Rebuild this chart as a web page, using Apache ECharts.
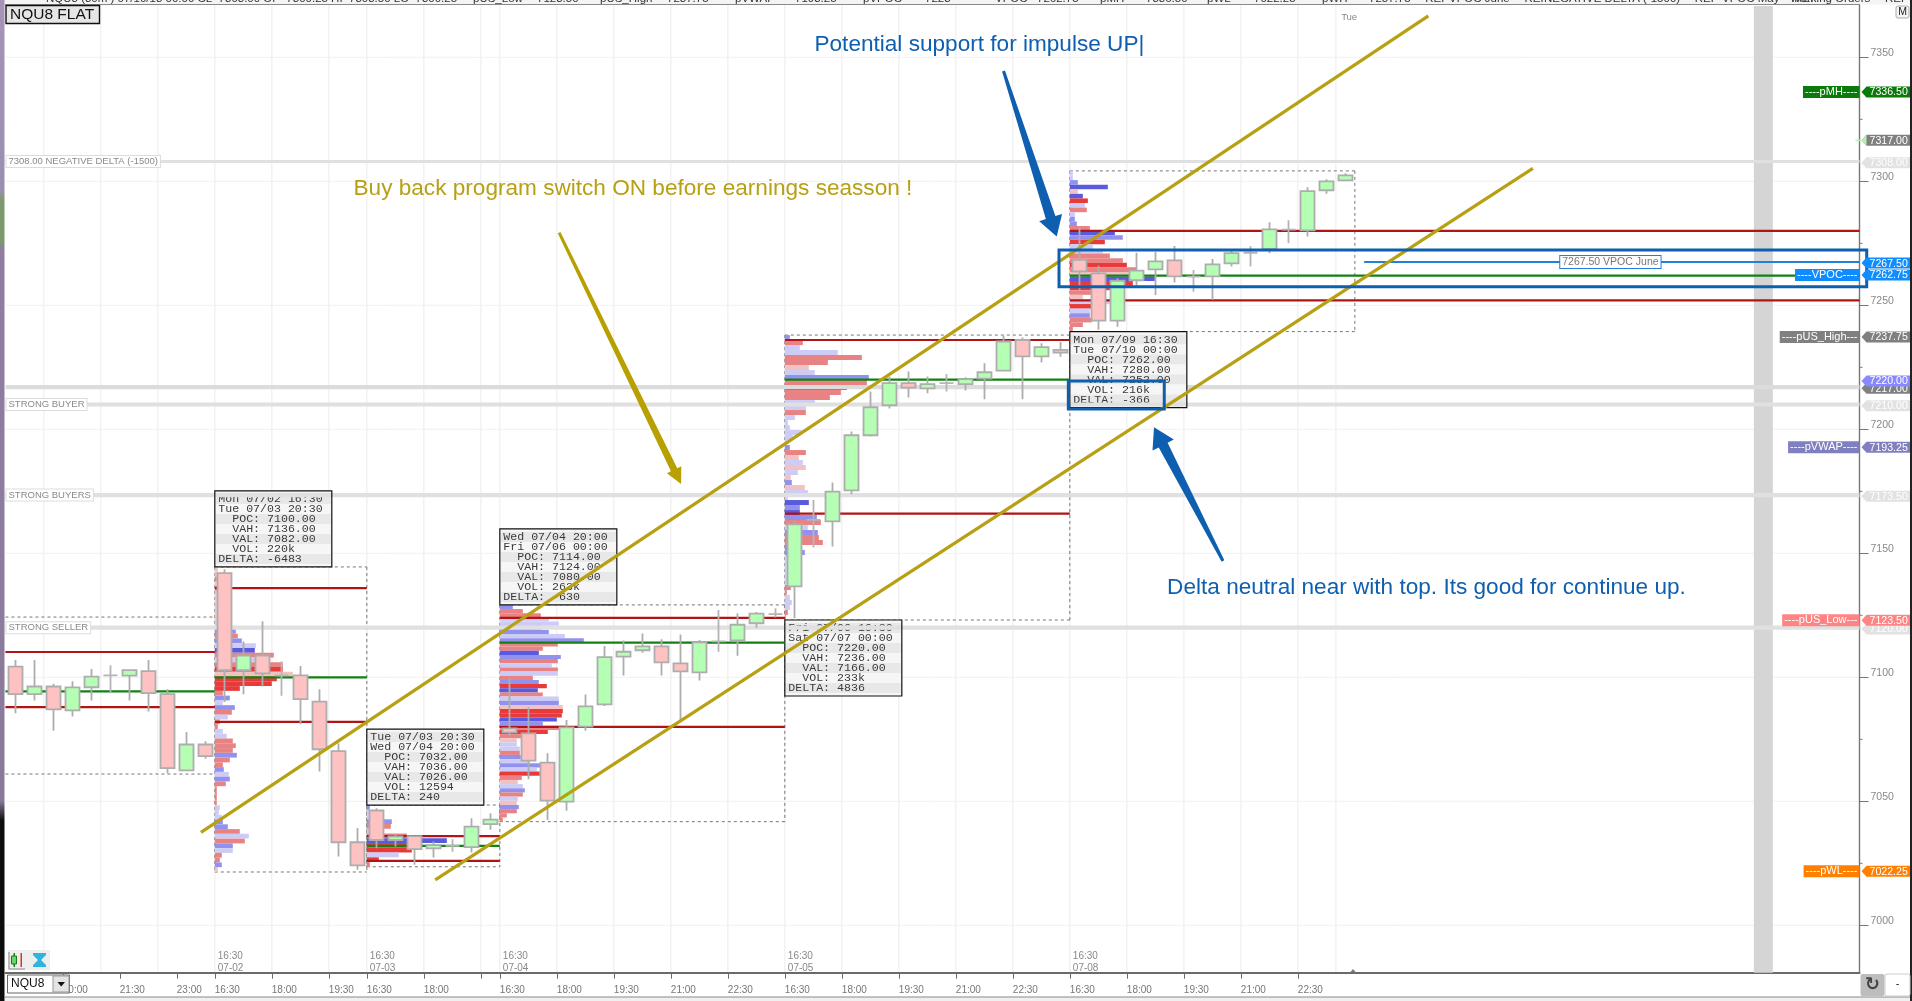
<!DOCTYPE html>
<html><head><meta charset="utf-8">
<style>html,body{margin:0;padding:0;background:#fff;overflow:hidden}#c{width:1912px;height:1001px}</style>
<script src="https://cdn.jsdelivr.net/npm/echarts@6/dist/echarts.min.js"></script>
</head><body><div id="c"></div>
<script>
// ---------- data ----------
// candles: bar index is the position in these arrays; 30-minute bars
const opens = [7104.3,7093.2,7096.3,7086.7,7096,7100.8,7100.7,7102.5,7093.2,7062.5,7072.9,
 7142,7102.9,7108.8,7100.8,7100.8,7090.2,7070.2,7033.5,
 7046.3,7034.4,7036,7031,7032,7031.5,7040.8,
 7079.4,7077.4,7065.6,7049.9,7080.1,7089.1,7108.3,7110.9,7112.5,7105.6,7102,7114.5,7114.9,7121.8,7125.5,
 7136.7,7163.5,7162.9,7175.4,7197.6,7209.7,7218.6,7216.5,7218.6,7218.2,7220.4,7223.7,7236,7229.4,7232,
 7268.3,7262.9,7243.8,7260.1,7264.5,7268.1,7261.6,7261.7,7266.9,7271.2,7272.6,7280.5,7280.2,7296.4,7300.4];
const closes = [7093.2,7096.3,7087.1,7095.9,7100.3,7100.8,7102.9,7093.6,7063.4,7072.9,7068.2,
 7102.9,7108.8,7101.6,7100.8,7091.2,7071,7033.5,7024.2,
 7034.4,7035.8,7030.7,7032.3,7032,7039.8,7042.6,
 7077.8,7066.4,7050.3,7079.8,7088.3,7108.1,7110.3,7112.5,7106,7102.4,7114.1,7114.5,7121.2,7125.7,7125.5,
 7161.7,7163.5,7174.9,7197.6,7208.9,7218.6,7216.8,7218.2,7218.6,7220.2,7223,7235.4,7229.4,7233.1,7230.9,
 7263.7,7243.8,7259.9,7264,7267.7,7261.7,7261.6,7266.5,7271,7271.2,7280.6,7280.5,7296,7300,7302.4];
const lows = [7085.5,7090.6,7078.5,7084.2,7090.6,7093.6,7090.6,7086.2,7061.3,7062.5,7067.2,
 7090,7093.2,7096.3,7092.6,7081.1,7062,7027.7,7022.4,
 7031.1,7031.8,7024.4,7027.3,7029.7,7029.4,7038.5,
 7076.1,7058.9,7042.5,7046.2,7078.5,7088.4,7100.7,7109.9,7100.7,7082.1,7098.7,7110.3,7108.7,7120,7124.1,
 7123.8,7152.3,7152.7,7173.8,7197.1,7208.4,7212.8,7214.5,7215.2,7215.6,7212.1,7223.3,7212.1,7226.9,7229.3,
 7256.2,7240.1,7241.4,7257.3,7254.2,7259.2,7255.5,7252.2,7265.6,7265.6,7271,7275,7277.7,7295,7300.4];
const highs = [7107,7107,7097.4,7098.4,7103.3,7104.9,7102.9,7107,7095.2,7077.9,7074.2,
 7143.6,7114.4,7122.6,7106.4,7104.6,7095.2,7073.4,7039.2,
 7047.2,7036.5,7036,7033.8,7034.7,7043.2,7045.2,
 7099.6,7087.9,7069.4,7082.8,7093.1,7112.6,7114.8,7117.7,7115.3,7117.3,7115,7127.1,7125.8,7126.3,7127.8,
 7162.8,7171.5,7178.6,7199.1,7215.2,7221.3,7223.3,7221.3,7222.3,7221,7226.6,7237.8,7237,7234.7,7235.2,
 7281.7,7265.9,7260.9,7271.2,7271.6,7273.9,7264.2,7268.7,7272,7273.9,7283.5,7284.3,7297.6,7300.8,7303.2];

const yTicks = [7000,7050,7100,7150,7200,7250,7300,7350];
const yMinorTicks = [7025,7075,7125,7175,7225,7275,7325];
const xGridBars = [1.5,4.5,7.5,10.5,13.5,16.5,18.5,21.5,24.5,25.5,28.5,31.5,34.5,37.5,40.5,43.5,46.5,49.5,52.5,55.5,58.5,61.5,64.5,67.5,69.5];
const xTickBars = [2.5,5.5,8.5,10.5,13.5,16.5,18.5,21.5,24.5,25.5,28.5,31.5,34.5,37.5,40.5,43.5,46.5,49.5,52.5,55.5,58.5,61.5,64.5,67.5];
const xTickLabels = ['20:00','21:30','23:00','16:30','18:00','19:30','16:30','18:00','','16:30','18:00','19:30','21:00','22:30','16:30','18:00','19:30','21:00','22:30','16:30','18:00','19:30','21:00','22:30'];
const sessionDateBars = [10.5,18.5,25.5,40.5,55.5];
const sessionDateLabels = ['16:30\n07-02','16:30\n07-03','16:30\n07-04','16:30\n07-05','16:30\n07-08'];

// sessions: pre-session first, then the five profiled sessions
const sessionStart = [-0.52,10.5,18.5,25.5,40.5,55.5];
const sessionEnd   = [10.5,18.5,25.5,40.5,55.5,70.5];
const sessionTop   = [7124.3,7144.5,7048.5,7129.2,7238,7304.2];
const sessionBot   = [7061,7021.5,7023.6,7041.8,7123.1,7239.4];
const sessionPoc   = [7094.3,7100,7032,7114,7220,7262];
const sessionVah   = [7110.2,7136,7036,7124,7236,7280];
const sessionVal   = [7088,7082,7026,7080,7166,7252];
const infoBelow    = [false,false,false,false,true,true];
const infoLines = [
 null,
 ['Mon 07/02 16:30','Tue 07/03 20:30','  POC: 7100.00','  VAH: 7136.00','  VAL: 7082.00','  VOL: 220k','DELTA: -6483'],
 ['Tue 07/03 20:30','Wed 07/04 20:00','  POC: 7032.00','  VAH: 7036.00','  VAL: 7026.00','  VOL: 12594','DELTA: 240'],
 ['Wed 07/04 20:00','Fri 07/06 00:00','  POC: 7114.00','  VAH: 7124.00','  VAL: 7080.00','  VOL: 263k','DELTA: -630'],
 ['Fri 07/06 16:30','Sat 07/07 00:00','  POC: 7220.00','  VAH: 7236.00','  VAL: 7166.00','  VOL: 233k','DELTA: 4836'],
 ['Mon 07/09 16:30','Tue 07/10 00:00','  POC: 7262.00','  VAH: 7280.00','  VAL: 7252.00','  VOL: 216k','DELTA: -366']
];

// volume profiles, top row to bottom row; tone a/b/c = buy light..strong, d/e/f = sell light..strong
const profile1Vol = [3,3,2,2,4,3,2,3,2,2, 3,2,3,21,23,27,41,40,59,50, 68,68,78,62,57,25,8,15,8,20, 17,13,5,3,8,12,18,21,18,22, 15,8,9,14,15,11,2,2,2,2, 5,4,7,8,13,25,34,30,18,18, 7,5,7,3];
const profile1Tone = 'ddededddad'+'dadbebacea'+'efdfffebab'+'eaeeaaeeeb'+'eebabeeeee'+'aaabbeaeba'+'eebd';
const profile2Vol = [3,7,14,25,24,7,40,80,55,45,32,12,3];
const profile2Tone = 'baabeaecffafe';
const profile3Vol = [13,23,41,49,59,42,49,65,84,58, 43,39,61,58,52,58,58,33,39,47, 38,43,59,59,63,63,62,57,43,66, 48,23,17,17,20,20,21,30,42,37, 40,22,18,23,25,23,18,17,19,17, 7,3];
const profile3Tone = 'beeaaebabe'+'ecbeaeaebf'+'ceabdffcbe'+'fedaaebaba'+'fedabeadbe'+'ee';
const profile4Vol = [5,18,15,53,77,43,24,30,84,82, 62,56,45,30,21,21,10,3,5,17, 8,2,5,21,14,18,21,13,6,7, 20,23,3,24,15,15,32,36,23,33, 34,38,17,20,3,2,2,2,2,2, 6,2,5,7,5,3,1];
const profile4Tone = 'beaaeedabe'+'feeaaeaaaa'+'aabedadadb'+'daacbcbeab'+'eebbaaaaaa'+'eeaaaee';
const profile5Vol = [3,3,8,38,8,13,18,15,17,5, 5,7,20,45,53,35,23,33,40,53, 57,67,73,85,63,40,22,13,42,30, 20,20,22,13,3];
const profile5Tone = 'aabcdcfaea'+'bbecbfaaee'+'fedcffedaf'+'abeee';

const grayPrices = [7308,7210,7173.5,7120];
const grayLabels = ['7308.00 NEGATIVE DELTA (-1500)','STRONG BUYER','STRONG BUYERS','STRONG SELLER'];
const grayUnderPrices = [7217];

const trendFrom = [[9.77,7037.5],[22.1,7018.3]];
const trendTo   = [[74.37,7366.7],[79.87,7305.2]];
const arrowFrom = [[28.62,7279.3],[52.01,7344.5],[63.56,7146.9]];
const arrowTo   = [[35.04,7177.9],[54.81,7277.7],[59.93,7200.8]];
const highlightBars = [[54.93,97.44],[55.42,60.47]];
const highlightPrices = [[7272.3,7257.5],[7219.5,7208.2]];

const noteTexts = ['Potential support for impulse UP|','Buy back program switch ON before earnings seasson !','Delta neutral near with top. Its good for continue up.'];
const noteAt = [[42.06,7355],[17.8,7297],[60.62,7136.3]];

const tagPrices = [7336.5,7317,7308,7267.5,7262.75,7237.75,7217,7220,7210,7193.25,7173.5,7120,7123.5,7022.25];
const tagNames  = ['----pMH----','','','','----VPOC----','----pUS_High---','','','','----pVWAP----','','','----pUS_Low---','----pWL----'];
const tagColors = ['#0a7a0a','#808080','#e2e2e2','#0f8cff','#0f8cff','#808080','#808080','#8888ff','#e2e2e2','#8080c0','#e2e2e2','#e2e2e2','#ff8484','#ff8000'];

const headerPieces = [[46,'NQU8 (30m ) 07/10/18 00:00 CL  7303.00 OP  7300.25 HI  7303.50 LO  7300.25 —'],[473,'pUS_Low'],[537,'7123.50 —'],[600,'pUS_High'],[667,'7237.75 —'],[735,'pVWAP'],[795,'7193.25 —'],[863,'pVPOC'],[925,'7223 —'],[995,'VPOC'],[1037,'7262.75 —'],[1100,'pMH'],[1146,'7336.50 —'],[1207,'pWL'],[1254,'7022.25 —'],[1322,'pWH'],[1369,'7257.75 —REF'],[1449,'VPOC June —REF'],[1544,'NEGATIVE DELTA (-1500) —REF'],[1722,'VPOC May —REF'],[1790,'Working Orders —REF']];

// ---------- chart ----------
const xMin=-0.516, xMax=97.06, yMin=6980.89, yMax=7371.09;
const FONT='"Liberation Sans",Arial,sans-serif';
const toneColor={a:'#ccccf6',b:'#9292ee',c:'#5a5ade',d:'#f2c2c2',e:'#e98282',f:'#e83a3a'};
const chart=echarts.init(document.getElementById('c'),null,{renderer:'canvas'});

function sketch(name,z,data,render){
  return {type:'custom',name,z,silent:true,clip:false,animation:false,data,encode:{x:0,y:1},
    renderItem:(p,api)=>({type:'group',children:render(p.dataIndex,api)})};
}
const line=(a,b,stroke,w,dash)=>({type:'line',shape:{x1:a[0],y1:a[1],x2:b[0],y2:b[1]},style:{stroke,lineWidth:w,lineDash:dash||null}});
const rect=(x,y,w,h,fill,stroke,lw)=>({type:'rect',shape:{x,y,width:w,height:h},style:{fill:fill||'none',stroke:stroke||null,lineWidth:lw||0}});
const idx=a=>a.map((_,i)=>[0,i]);
const infoTop=(s,api)=>{const a=infoBelow[s]?api.coord([sessionStart[s],sessionBot[s]]):api.coord([sessionStart[s],sessionTop[s]]);return [a[0],infoBelow[s]?a[1]:a[1]-76];};

const series=[];
// grid lines
series.push(sketch('hgrid',0,yTicks.map(v=>[0,v]),(i,api)=>[line(api.coord([xMin,yTicks[i]]),api.coord([xMax,yTicks[i]]),'#f1f1f1',1)]));
series.push(sketch('vgrid',0,xGridBars.map(v=>[v,7000]),(i,api)=>[line(api.coord([xGridBars[i],yMin]),api.coord([xGridBars[i],yMax]),'#efefef',1.2)]));
series.push(sketch('minorTicks',0,yMinorTicks.map(v=>[xMax,v]),(i,api)=>{const a=api.coord([xMax,yMinorTicks[i]]);return [line(a,[a[0]+3,a[1]],'#777',1)];}));
// time band
series.push(sketch('band',1,[[92,7000]],(i,api)=>{const a=api.coord([91.5,yMax]),b=api.coord([92.5,yMin]);return [rect(a[0],a[1]+1,b[0]-a[0],b[1]-a[1]-1,'#d5d5d5')]}));
// session dashed boxes
series.push(sketch('sessions',2,idx(sessionStart),(i,api)=>{
  const a=api.coord([sessionStart[i],sessionTop[i]]),b=api.coord([sessionEnd[i],sessionBot[i]]);
  const d=[3,3],c='#777';
  const out=[line(a,[b[0],a[1]],c,1,d),line([a[0],b[1]],b,c,1,d)];
  if(i>0){out.push(line(a,[a[0],b[1]],c,1,d),line([b[0],a[1]],b,c,1,d));}
  return out;
}));
// profiles
[[profile1Vol,profile1Tone,1],[profile2Vol,profile2Tone,2],[profile3Vol,profile3Tone,3],[profile4Vol,profile4Tone,4],[profile5Vol,profile5Tone,5]].forEach(([vol,tone,s])=>{
  const step=(sessionTop[s]-sessionBot[s])/vol.length;
  series.push(sketch('profile'+s,3,vol.map((v,k)=>[sessionStart[s],sessionTop[s]-k*step]),(k,api)=>{
    const a=api.coord([sessionStart[s],sessionTop[s]-k*step]);
    const b=api.coord([sessionStart[s]+vol[k]/19,sessionTop[s]-(k+1)*step]);
    return [rect(a[0],a[1],b[0]-a[0],b[1]-a[1],toneColor[tone[k]||'a'])];
  }));
});
// level line that runs beneath the info boxes
series.push(sketch('levelsUnder',3,grayUnderPrices.map(v=>[xMin,v]),(i,api)=>[line(api.coord([xMin,grayUnderPrices[i]]),api.coord([xMax,grayUnderPrices[i]]),'#dcdcdc',4.2)]));
// info boxes
const infoIdx=[1,2,3,4,5];
series.push(sketch('infoFill',4,infoIdx.map(s=>[sessionStart[s],sessionTop[s]]),(i,api)=>{
  const s=infoIdx[i],[x,y]=infoTop(s,api);
  const out=[rect(x,y,117,76,'#f6f6f6')];
  infoLines[s].forEach((t,k)=>{
    out.push(rect(x+1,y+3+k*10,115,10,k%2?'#f6f6f6':'#e8e8e8'));
    out.push({type:'text',style:{text:t,x:x+3.5,y:y+8.2+k*10,fill:'#3a3a3a',font:'11.6px "Liberation Mono",monospace',align:'left',verticalAlign:'middle'}});
  });
  return out;
}));
// thick gray level lines
series.push(sketch('levels',5,grayPrices.map(v=>[xMin,v]),(i,api)=>{
  const a=api.coord([xMin,grayPrices[i]]),b=api.coord([xMax,grayPrices[i]]);
  const out=[line(a,b,'#e0e0e0',i==0?3:4.2)];
  if(grayLabels[i]) out.push({type:'text',style:{text:grayLabels[i],x:a[0]+1,y:a[1],fill:'#8a8a8a',font:'9.5px '+FONT,align:'left',verticalAlign:'middle',backgroundColor:'#fff',borderColor:'#dcdcdc',borderWidth:1,padding:[1,2,0,2]}});
  return out;
}));
series.push(sketch('infoBorder',6,infoIdx.map(s=>[sessionStart[s],sessionTop[s]]),(i,api)=>{
  const s=infoIdx[i],[x,y]=infoTop(s,api);
  return [rect(x,y,117,76,null,'#111',1.2)];
}));
// value-area lines
series.push(sketch('valueArea',7,idx(sessionStart),(i,api)=>{
  const end=i==5?xMax:sessionEnd[i];
  const mk=(v,c)=>line(api.coord([sessionStart[i],v]),api.coord([end,v]),c,2.2);
  return [mk(sessionVah[i],'#b01414'),mk(sessionVal[i],'#b01414'),mk(sessionPoc[i],'#128012')];
}));
series.push(sketch('vpocJune',7,[[63.9,7267.5]],(i,api)=>{
  const a=api.coord([70.99,7267.5]),b=api.coord([xMax,7267.5]),m=api.coord([83.95,7267.5]);
  return [line(a,b,'#1f82d8',2),{type:'text',style:{text:'7267.50 VPOC June',x:m[0],y:m[1],fill:'#777',font:'10.5px '+FONT,align:'center',verticalAlign:'middle',backgroundColor:'#fff',borderColor:'#1f82d8',borderWidth:1,padding:[1,2,0,2]}}];
}));
// candles
series.push({type:'candlestick',name:'NQU8',z:8,silent:true,animation:false,barWidth:14,encode:{x:0,y:[1,2,3,4]},
  data:opens.map((o,i)=>[i,o,closes[i],lows[i],highs[i]]),
  itemStyle:{color:'#b4ffb4',color0:'#ffc2c2',borderColor:'#adadad',borderColor0:'#adadad',borderColorDoji:'#b5b5b5',borderWidth:1.8}});
// trend lines and arrows
series.push(sketch('trend',9,idx(trendFrom),(i,api)=>[line(api.coord(trendFrom[i]),api.coord(trendTo[i]),'#b8a014',3.2)]));
series.push(sketch('highlights',10,idx(highlightBars),(i,api)=>{
  const a=api.coord([highlightBars[i][0],highlightPrices[i][0]]),b=api.coord([highlightBars[i][1],highlightPrices[i][1]]);
  return [rect(a[0],a[1],b[0]-a[0],b[1]-a[1],null,'#0e5fb0',3)];
}));
const arrowStyle=[{c:'#b8a000',t:3,w:7,l:16,h:8},{c:'#0e5fb0',t:3,w:10,l:20,h:12},{c:'#0e5fb0',t:3,w:10,l:20,h:12}];
series.push(sketch('arrows',11,idx(arrowFrom),(i,api)=>{
  const a=api.coord(arrowFrom[i]),b=api.coord(arrowTo[i]),st=arrowStyle[i];
  const L=Math.hypot(b[0]-a[0],b[1]-a[1]),ux=(b[0]-a[0])/L,uy=(b[1]-a[1])/L,nx=-uy,ny=ux;
  const nk=[b[0]-ux*st.l,b[1]-uy*st.l];
  const P=(p,s)=>[p[0]+nx*s,p[1]+ny*s];
  return [{type:'polygon',shape:{points:[P(a,st.t/2),P(nk,st.w/2),P(nk,st.h),b,P(nk,-st.h),P(nk,-st.w/2),P(a,-st.t/2)]},style:{fill:st.c}}];
}));
// notes
const noteColor=['#0e5fb0','#b8a014','#0e5fb0'];
series.push(sketch('notes',12,noteAt,(i,api)=>{
  const a=api.coord(noteAt[i]);
  return [{type:'text',style:{text:noteTexts[i],x:a[0],y:a[1],fill:noteColor[i],font:'22.6px '+FONT,align:'left',verticalAlign:'middle'}}];
}));
series.push(sketch('dayMark',12,[[70.2,7366]],(i,api)=>{
  const a=api.coord([70.2,7366]);
  return [{type:'text',style:{text:'Tue',x:a[0],y:a[1],fill:'#8a8a8a',font:'9.5px '+FONT,align:'center',verticalAlign:'middle'}}];
}));
// price tags
series.push(sketch('tags',13,tagPrices.map(v=>[xMax,v]),(i,api)=>{
  const a=api.coord([xMax,tagPrices[i]]),x=a[0],y=a[1]+1.2,c=tagColors[i];
  const isLast=tagPrices[i]===7317;
  const out=[];
  if(isLast) out.push(line([x-4,y],[x+2,y],'#b4f0b4',1.5));
  out.push({type:'polygon',shape:{points:[[x+2,y],[x+7,y-5.5],[x+51,y-5.5],[x+51,y+5.5],[x+7,y+5.5]]},style:{fill:c}});
  if(isLast) out.push({type:'polygon',shape:{points:[[x+2,y],[x+7,y-5.5],[x+7,y+5.5]]},style:{fill:'#b4f0b4'}});
  out.push({type:'text',style:{text:tagPrices[i].toFixed(2),x:x+10,y:y+0.5,fill:'#fff',font:'10.6px '+FONT,align:'left',verticalAlign:'middle'}});
  if(tagNames[i]) out.push({type:'text',style:{text:tagNames[i],x:x,y:y,fill:'#fff',font:'11px '+FONT,align:'right',verticalAlign:'middle',backgroundColor:c,padding:[1,2,0,2]}});
  return out;
}));

// window chrome
const graphic=[
 {type:'rect',shape:{x:0,y:0,width:1912,height:4.5},style:{fill:'#f4f4f4'},z:50},
 {type:'rect',shape:{x:5,y:4,width:1855,height:1},style:{fill:'#8a8a8a'},z:50},
 {type:'rect',shape:{x:0,y:0,width:4.5,height:1001},style:{fill:new echarts.graphic.LinearGradient(0,0,0,1,[{offset:0,color:'#a594b8'},{offset:.19,color:'#9a8fb0'},{offset:.2,color:'#7d9a6e'},{offset:.24,color:'#7d9a6e'},{offset:.25,color:'#8f7ea0'},{offset:.8,color:'#8a7a9a'},{offset:.82,color:'#0c0c0c'},{offset:1,color:'#0c0c0c'}])},z:50},
 {type:'rect',shape:{x:1910,y:0,width:2,height:1001},style:{fill:'#222'},z:50},
 {type:'rect',shape:{x:5,y:997,width:1905,height:4},style:{fill:'#f0f0f0'},z:50},
 {type:'rect',shape:{x:5,y:996.5,width:1905,height:1},style:{fill:'#8a8a8a'},z:50},
 {type:'rect',shape:{x:6,y:5.5,width:93.5,height:18},style:{fill:'#e6e6e6',stroke:'#111',lineWidth:1.4},z:50},
 {type:'text',style:{text:'NQU8 FLAT',x:10,y:15,fill:'#111',font:'15.5px '+FONT,verticalAlign:'middle'},z:51},
 {type:'rect',shape:{x:1896,y:6,width:13,height:12,r:2},style:{fill:'#f4f4f4',stroke:'#aaa',lineWidth:1},z:50},
 {type:'text',style:{text:'M',x:1902.5,y:12.5,fill:'#222',font:'10.5px '+FONT,align:'center',verticalAlign:'middle'},z:51},
 {type:'rect',shape:{x:7.5,y:975,width:62,height:18},style:{fill:'#fff',stroke:'#666',lineWidth:1},z:50},
 {type:'text',style:{text:'NQU8',x:11,y:984,fill:'#111',font:'12px '+FONT,verticalAlign:'middle'},z:51},
 {type:'rect',shape:{x:53,y:976,width:16,height:16},style:{fill:'#e4e4e4',stroke:'#999',lineWidth:1},z:51},
 {type:'polygon',shape:{points:[[57.5,982],[65,982],[61.2,986.5]]},style:{fill:'#111'},z:52},
 {type:'rect',shape:{x:8,y:950,width:42,height:20},style:{fill:'#eeeeee'},z:50},
 {type:'rect',shape:{x:13.5,y:953,width:1.5,height:14},style:{fill:'#1a7a1a'},z:51},
 {type:'rect',shape:{x:11.5,y:956,width:5,height:8},style:{fill:'#6fd06f',stroke:'#1a7a1a',lineWidth:1},z:51},
 {type:'rect',shape:{x:20.5,y:953,width:1.5,height:14},style:{fill:'#e03030'},z:51},
 {type:'polyline',shape:{points:[[9,952],[9,969],[25,969]]},style:{stroke:'#888',lineWidth:1,fill:'none'},z:51},
 {type:'polygon',shape:{points:[[33,953],[46,953],[46,955],[41,960],[46,965],[46,967],[33,967],[33,965],[38,960],[33,955]]},style:{fill:'#2fb4e0'},z:51},
 {type:'rect',shape:{x:1860.5,y:974,width:24,height:22,r:2},style:{fill:'#bdbdbd'},z:50},
 {type:'text',style:{text:'↻',x:1872.5,y:985,fill:'#444',font:'bold 18px "DejaVu Sans"',align:'center',verticalAlign:'middle'},z:51},
 {type:'rect',shape:{x:1885,y:974,width:25,height:22,r:2},style:{fill:'#fff',stroke:'#ccc',lineWidth:1},z:50},
 {type:'text',style:{text:'-',x:1897.5,y:984,fill:'#222',font:'11px '+FONT,align:'center',verticalAlign:'middle'},z:51},
 {type:'polygon',shape:{points:[[1350,972.5],[1356,972.5],[1353,969]]},style:{fill:'#777'},z:50}
];
headerPieces.forEach(h=>graphic.push({type:'text',style:{text:h[1],x:h[0],y:4.8,fill:'#333',font:'11.5px '+FONT,verticalAlign:'bottom'},z:51}));

const axisColor='#777';
chart.setOption({
  animation:false,backgroundColor:'#fff',
  textStyle:{fontFamily:FONT},
  tooltip:{show:false},
  grid:{left:5.5,top:5,right:52.5,bottom:28.3,containLabel:false},
  xAxis:[
   {type:'value',min:xMin,max:xMax,position:'bottom',splitLine:{show:false},
    axisLine:{onZero:false,lineStyle:{color:'#6a6a6a',width:2}},
    axisTick:{customValues:xTickBars,length:6,lineStyle:{color:'#6a6a6a'}},
    axisLabel:{customValues:xTickBars,align:'left',margin:13,fontSize:10,color:'#777',hideOverlap:false,
      formatter:v=>xTickLabels[xTickBars.indexOf(v)]||''}},
   {type:'value',min:xMin,max:xMax,position:'bottom',splitLine:{show:false},axisLine:{show:false},axisTick:{show:false},
    axisLabel:{inside:true,customValues:sessionDateBars,align:'left',margin:-2,padding:[0,0,0,3],fontSize:10,lineHeight:12,color:'#888',
      formatter:v=>sessionDateLabels[sessionDateBars.indexOf(v)]||''}}
  ],
  yAxis:[
   {type:'value',min:yMin,max:yMax,position:'right',splitLine:{show:false},
    axisLine:{onZero:false,lineStyle:{color:axisColor,width:1.4}},
    axisTick:{customValues:yTicks,length:9,lineStyle:{color:axisColor}},
    axisLabel:{customValues:yTicks,margin:11,fontSize:10.5,color:'#888',verticalAlign:'bottom',lineHeight:8,formatter:v=>String(v)}}
  ],
  series,graphic
});
</script></body></html>
